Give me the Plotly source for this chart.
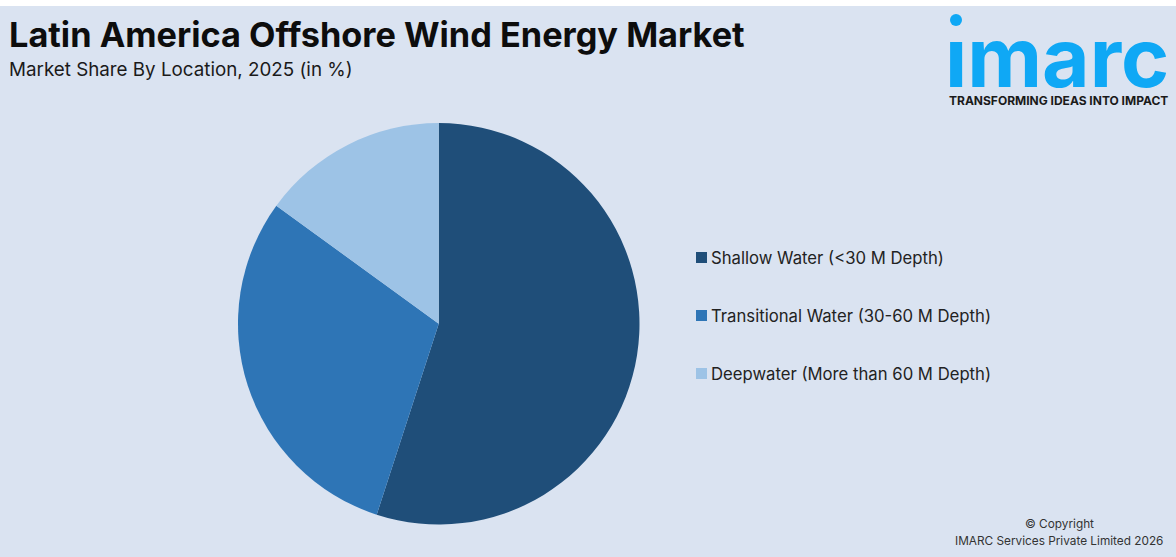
import plotly.graph_objects as go

W = 1176
H = 557

labels = [
    "Shallow Water (<30 M Depth)",
    "Transitional Water (30-60 M Depth)",
    "Deepwater (More than 60 M Depth)",
]
shares = [55, 30, 15]
colors = ["#1F4E79", "#2E75B6", "#9DC3E6"]

title = "Latin America Offshore Wind Energy Market"
subtitle = "Market Share By Location, 2025 (in %)"
tagline = "TRANSFORMING IDEAS INTO IMPACT"


def xf(px):
    return px / W


def yf(py):
    return 1 - py / H


fig = go.Figure(
    go.Pie(
        labels=labels,
        values=shares,
        sort=False,
        direction="clockwise",
        rotation=0,
        textinfo="none",
        marker=dict(colors=colors, line=dict(width=0)),
        domain=dict(x=[xf(238), xf(639.5)], y=[yf(524.5), yf(123)]),
        showlegend=False,
    )
)


def add_text(text, x, y, size, color, family, anchor="left"):
    fig.add_annotation(
        text=text,
        x=xf(x),
        y=yf(y),
        xref="paper",
        yref="paper",
        xanchor=anchor,
        yanchor="middle",
        showarrow=False,
        borderpad=0,
        font=dict(size=size, color=color, family=family),
    )


add_text(f"<b>{title}</b>", 8, 34, 34.3, "#0D0D0D", "Inter")
add_text(subtitle, 8, 69, 18.8, "#1A1A1A", "Inter")

# legend drawn by hand, the swatches sit well away from the pie
legend_y = [258, 316, 374]
for name, col, ly in zip(labels, colors, legend_y):
    fig.add_shape(
        type="rect", xref="paper", yref="paper",
        x0=xf(696), x1=xf(707), y0=yf(ly + 5), y1=yf(ly - 6),
        fillcolor=col, line=dict(width=0),
    )
    add_text(name.replace("<", "&lt;"), 710, ly, 16.7, "#222222", "Inter")

# logo
fig.add_shape(
    type="circle", xref="paper", yref="paper",
    x0=xf(950), x1=xf(962), y0=yf(26), y1=yf(14),
    fillcolor="#0FA8F5", line=dict(width=0),
)
add_text("<b>ımarc</b>", 944, 58, 82, "#0FA8F5", "Inter")
add_text(f"<b>{tagline}</b>", 948, 100, 12, "#1A1A1A", "Inter")

add_text("© Copyright", 1059, 524, 11.8, "#333333", "Inter", "center")
add_text("IMARC Services Private Limited 2026", 1058.5, 541, 11.8, "#333333", "Inter", "center")

fig.update_layout(
    width=W,
    height=H,
    margin=dict(l=0, r=0, t=0, b=0),
    paper_bgcolor="#DAE3F1",
    shapes=list(fig.layout.shapes) + [
        dict(type="rect", xref="paper", yref="paper", x0=0, x1=1, y0=yf(6), y1=1,
             fillcolor="white", line=dict(width=0)),
    ],
)

fig.write_html(
    "out.html",
    config={"displayModeBar": False},
    post_script="document.body.style.margin='0';",
)
